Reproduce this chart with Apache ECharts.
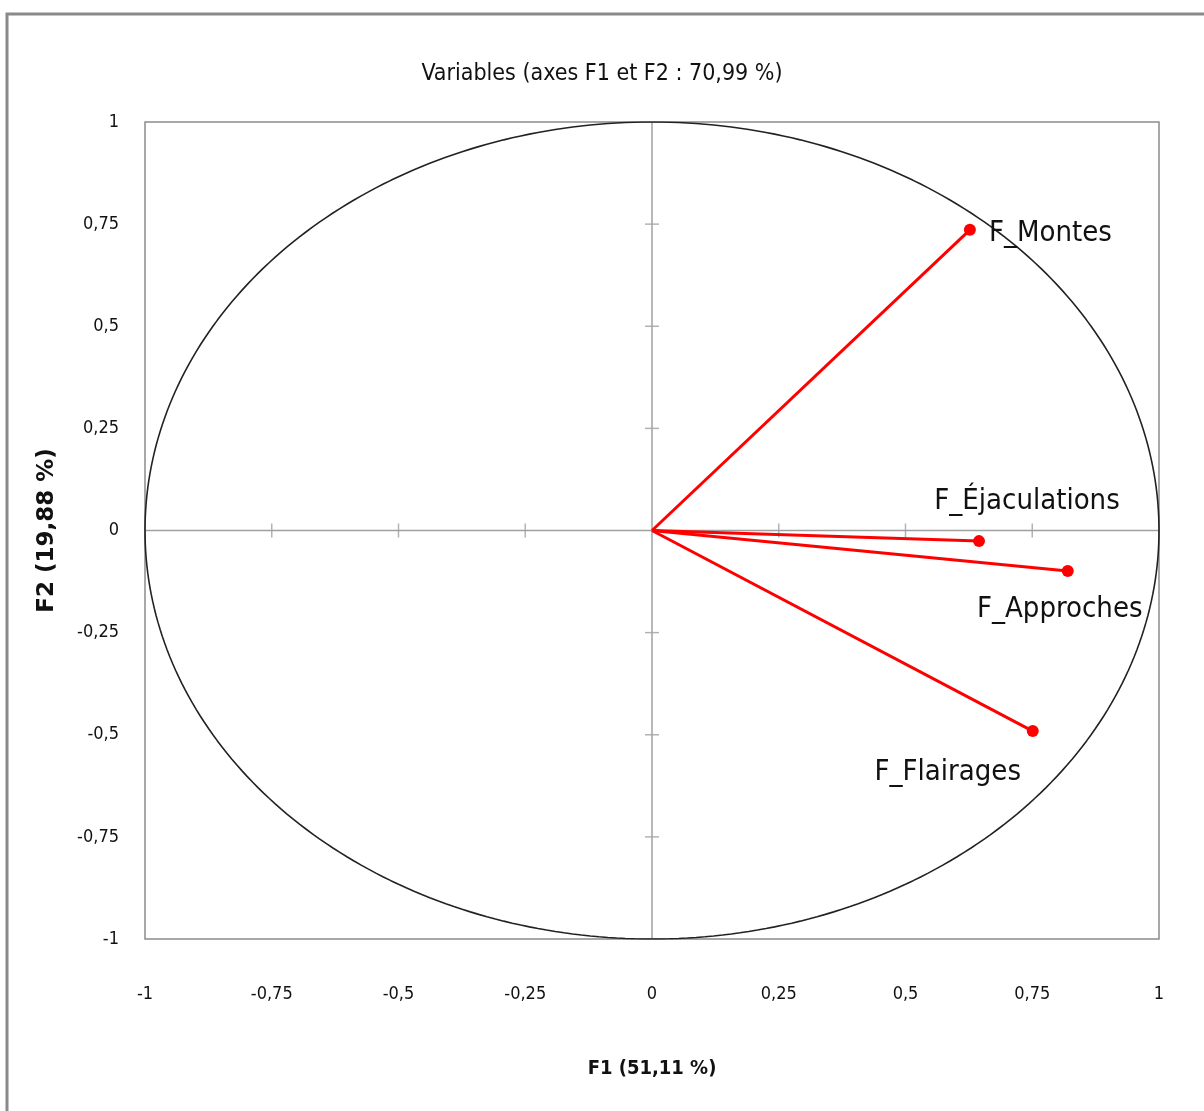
<!DOCTYPE html>
<html>
<head>
<meta charset="utf-8">
<script src="https://cdn.jsdelivr.net/npm/echarts@6/dist/echarts.min.js"></script>
<style>
  html, body { margin: 0; padding: 0; background: #ffffff; }
  #chart { width: 1204px; height: 1111px; }
</style>
</head>
<body>
<div id="chart"></div>
<script>
// Correlation circle: loadings of the variables on factors F1 and F2
const variables = ['F_Montes', 'F_Éjaculations', 'F_Approches', 'F_Flairages'];
const f1Loadings = [0.627, 0.645, 0.820, 0.751];
const f2Loadings = [0.736, -0.026, -0.099, -0.491];
const tickValues = [-1, -0.75, -0.5, -0.25, 0, 0.25, 0.5, 0.75, 1];

const titleText = 'Variables (axes F1 et F2 : 70,99 %)';
const xName = 'F1 (51,11 %)';
const yName = 'F2 (19,88 %)';

// where each variable name sits relative to its arrow tip
const labelPlacement = [
  { position: 'right', offset: [8, 4] },
  { position: 'top', offset: [48, -14] },
  { position: 'bottom', offset: [-8, 13] },
  { position: 'bottom', offset: [-85, 16] }
];

const narrow = '"Liberation Sans Narrow", "DejaVu Sans Condensed", sans-serif';
const fmt = v => String(v).replace('.', ',');

// unit circle outline
const circlePts = [];
for (let i = 0; i <= 360; i++) {
  const a = i * Math.PI / 180;
  circlePts.push([Math.cos(a), Math.sin(a)]);
}

const innerTicks = tickValues.filter(v => v !== 0 && Math.abs(v) !== 1);

const series = [
  {
    type: 'line', data: circlePts, showSymbol: false, silent: true, z: 2,
    lineStyle: { color: '#222222', width: 1.6 }
  },
  {
    type: 'line', data: [[-1, 0], [1, 0]], showSymbol: false, silent: true, z: 1,
    lineStyle: { color: '#a0a0a0', width: 1.5 }
  },
  {
    type: 'line', data: [[0, -1], [0, 1]], showSymbol: false, silent: true, z: 1,
    lineStyle: { color: '#a0a0a0', width: 1.5 }
  },
  {
    type: 'scatter', data: innerTicks.map(v => [v, 0]), symbol: 'rect',
    symbolSize: [1.5, 14], silent: true, z: 1,
    itemStyle: { color: '#a0a0a0' }
  },
  {
    type: 'scatter', data: innerTicks.map(v => [0, v]), symbol: 'rect',
    symbolSize: [14, 1.5], silent: true, z: 1,
    itemStyle: { color: '#a0a0a0' }
  }
];

variables.forEach((name, i) => {
  const place = labelPlacement[i];
  series.push({
    type: 'line',
    name: name,
    z: 5,
    data: [
      { value: [0, 0], symbolSize: 0, label: { show: false } },
      {
        value: [f1Loadings[i], f2Loadings[i]],
        symbolSize: 12,
        label: {
          show: true,
          formatter: name,
          position: place.position,
          offset: place.offset,
          fontFamily: narrow,
          fontSize: 29,
          color: '#111111'
        }
      }
    ],
    symbol: 'circle',
    showSymbol: true,
    lineStyle: { color: '#ff0000', width: 3 },
    itemStyle: { color: '#ff0000' }
  });
});

const chart = echarts.init(document.getElementById('chart'), null, { renderer: 'canvas' });
chart.setOption({
  backgroundColor: '#ffffff',
  animation: false,
  title: {
    text: titleText,
    left: 'center',
    top: 58,
    textStyle: { fontFamily: narrow, fontSize: 23, fontWeight: 'normal', color: '#111111' }
  },
  graphic: [{
    type: 'rect',
    shape: { x: 7, y: 14, width: 1300, height: 1200 },
    style: { fill: 'none', stroke: '#8a8a8a', lineWidth: 3 },
    silent: true
  }],
  grid: {
    left: 145, right: 45, top: 122, bottom: 172,
    show: true, borderColor: '#8c8c8c', borderWidth: 1.5, backgroundColor: 'transparent'
  },
  xAxis: {
    type: 'value', min: -1, max: 1, interval: 0.25,
    axisLine: { show: false, onZero: false },
    axisTick: { show: false },
    splitLine: { show: false },
    axisLabel: { margin: 46, formatter: fmt, fontFamily: narrow, fontSize: 18, color: '#111111' },
    name: xName, nameLocation: 'middle', nameGap: 120,
    nameTextStyle: { fontFamily: narrow, fontSize: 20, fontWeight: 'bold', color: '#111111' }
  },
  yAxis: {
    type: 'value', min: -1, max: 1, interval: 0.25,
    axisLine: { show: false, onZero: false },
    axisTick: { show: false },
    splitLine: { show: false },
    axisLabel: { margin: 26, formatter: fmt, fontFamily: narrow, fontSize: 18, color: '#111111' },
    name: yName, nameLocation: 'middle', nameGap: 86,
    nameTextStyle: { fontFamily: '"DejaVu Sans", sans-serif', fontSize: 23, fontWeight: 'bold', color: '#111111' }
  },
  series: series
});
</script>
</body>
</html>
